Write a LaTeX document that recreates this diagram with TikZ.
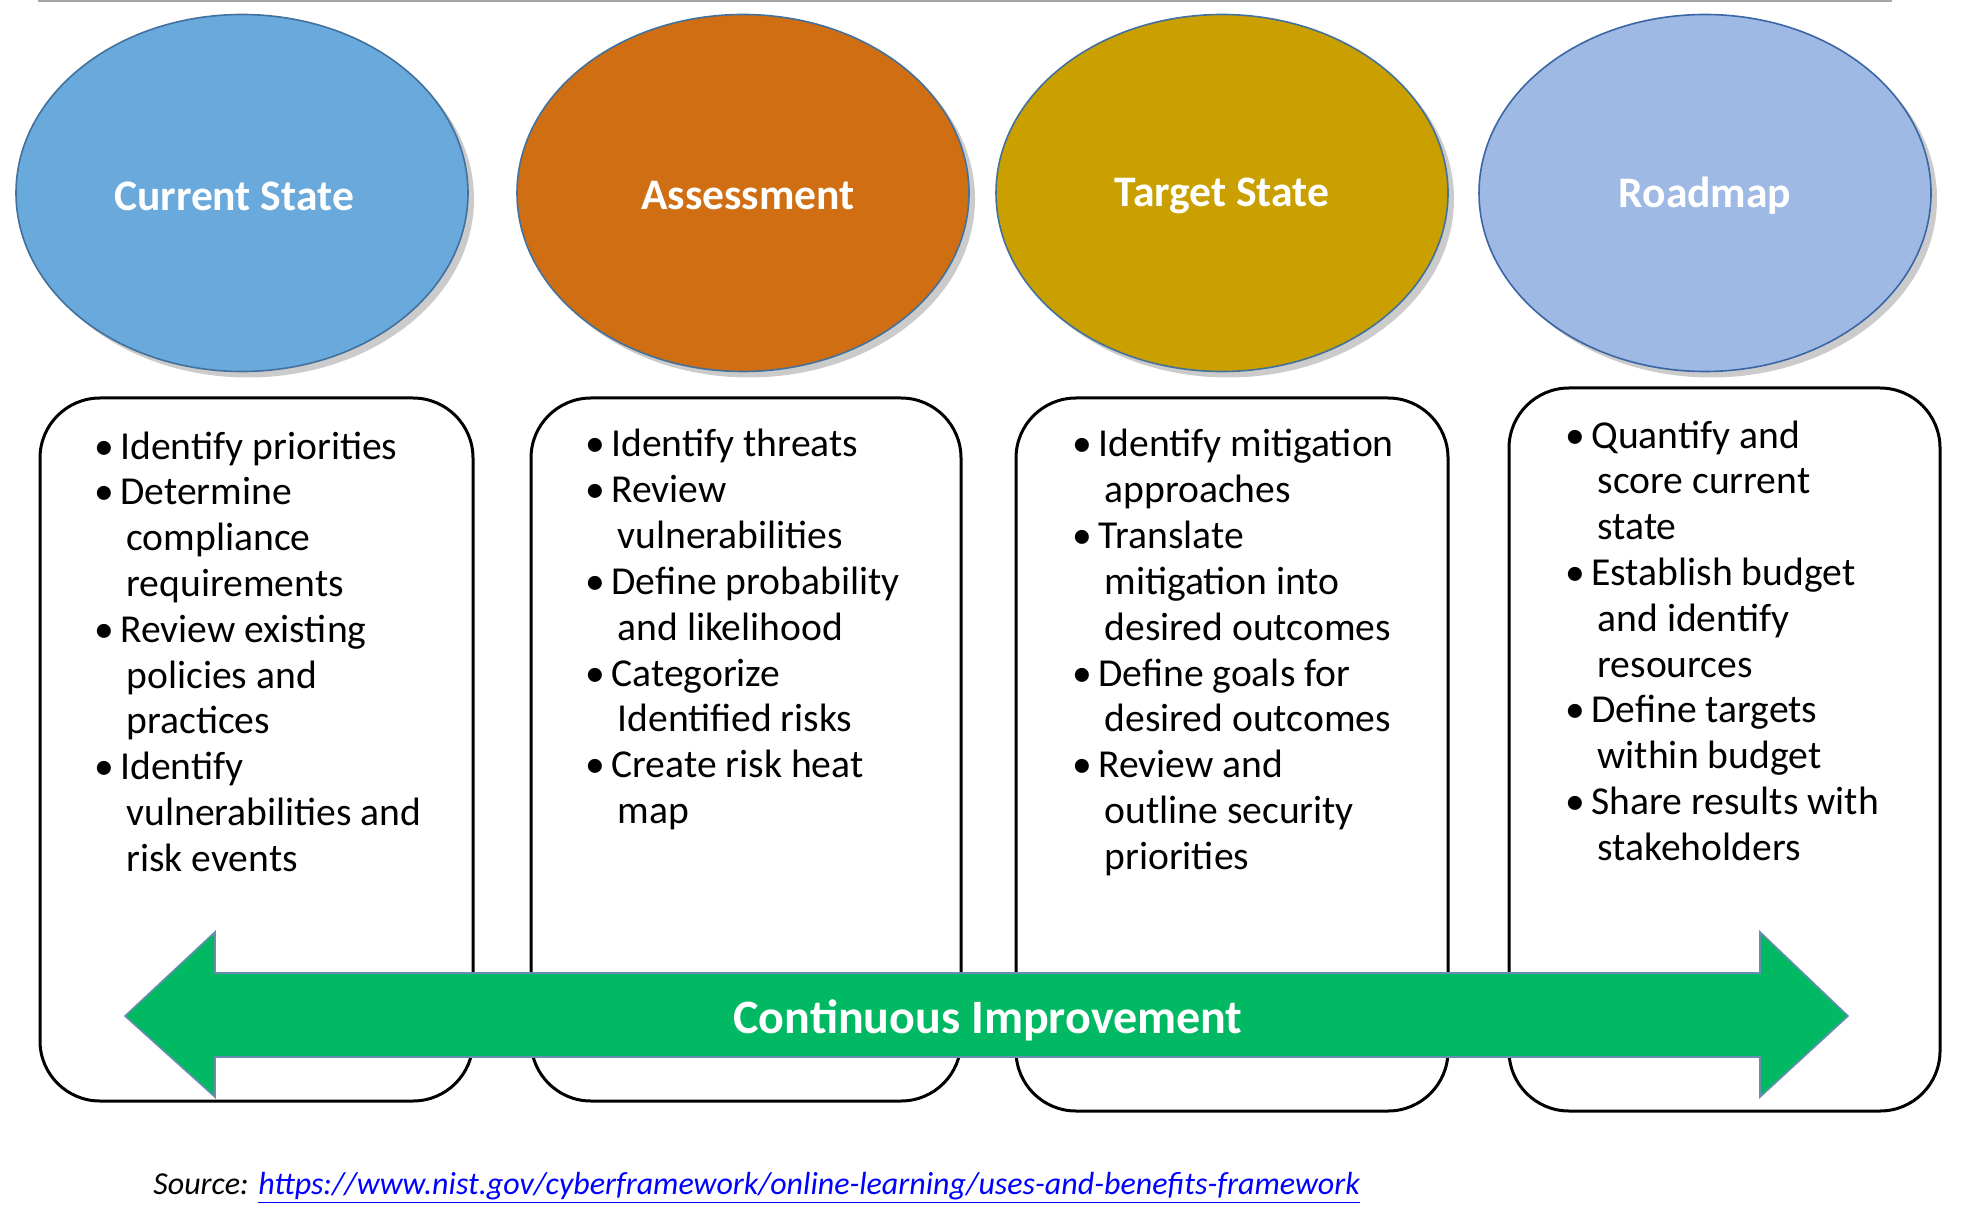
\documentclass[tikz,border=0pt]{standalone}
\usepackage{fontspec}
\setmainfont{Carlito}
\usetikzlibrary{shapes.geometric,shadows}

\definecolor{curblue}{HTML}{69A9DB}
\definecolor{assessorange}{HTML}{D06E14}
\definecolor{targetgold}{HTML}{C9A000}
\definecolor{roadblue}{HTML}{9EB9E3}
\definecolor{rimblue}{HTML}{41719C}
\definecolor{arrowgreen}{HTML}{00B962}
\definecolor{linkblue}{HTML}{0000FF}

\newcommand{\bul}{\textbullet}
\newcommand{\cont}{\hspace{3pt}}

\begin{document}
\begin{tikzpicture}[x=0.5pt, y=-0.5pt,
    phase/.style={ellipse, draw=rimblue, line width=0.8pt, inner sep=0pt,
      minimum width=226pt, minimum height=178.5pt},
    title/.style={text=white, font=\fontsize{21.8}{24}\selectfont\bfseries},
    box/.style={draw=black, line width=1.5pt, rounded corners=30pt, fill=white, inner sep=0pt},
    bullets/.style={anchor=base west, inner sep=0pt, font=\fontsize{19.8}{22.9}\selectfont}]
  \useasboundingbox (0,0) rectangle (1962,1224);
  \draw[gray!70, line width=1pt] (38,1) -- (1892,1);

  % boxes
  \node[box, minimum width=216.5pt, minimum height=351.5pt] (b1) at (256.5,749.5) {};
  \node[box, minimum width=215pt, minimum height=351.5pt] (b2) at (746,749.5) {};
  \node[box, minimum width=216pt, minimum height=356.5pt] (b3) at (1232,754.5) {};
  \node[box, minimum width=215.5pt, minimum height=361.5pt] (b4) at (1724.5,749.5) {};

  \node[bullets] (l1) at (94,459) {\begin{tabular}[t]{@{}l@{\hspace{3.2pt}}l@{}}
    \bul & Identify priorities\\
    \bul & Determine\\
         & \cont compliance\\
         & \cont requirements\\
    \bul & Review existing\\
         & \cont policies and\\
         & \cont practices\\
    \bul & Identify\\
         & \cont vulnerabilities and\\
         & \cont risk events
  \end{tabular}};
  \node[bullets] (l2) at (585,457) {\begin{tabular}[t]{@{}l@{\hspace{3.2pt}}l@{}}
    \bul & Identify threats\\
    \bul & Review\\
         & \cont vulnerabilities\\
    \bul & Define probability\\
         & \cont and likelihood\\
    \bul & Categorize\\
         & \cont Identified risks\\
    \bul & Create risk heat\\
         & \cont map
  \end{tabular}};
  \node[bullets] (l3) at (1072,457) {\begin{tabular}[t]{@{}l@{\hspace{3.2pt}}l@{}}
    \bul & Identify mitigation\\
         & \cont approaches\\
    \bul & Translate\\
         & \cont mitigation into\\
         & \cont desired outcomes\\
    \bul & Define goals for\\
         & \cont desired outcomes\\
    \bul & Review and\\
         & \cont outline security\\
         & \cont priorities
  \end{tabular}};
  \node[bullets] (l4) at (1565,448) {\begin{tabular}[t]{@{}l@{\hspace{3.2pt}}l@{}}
    \bul & Quantify and\\
         & \cont score current\\
         & \cont state\\
    \bul & Establish budget\\
         & \cont and identify\\
         & \cont resources\\
    \bul & Define targets\\
         & \cont within budget\\
    \bul & Share results with\\
         & \cont stakeholders
  \end{tabular}};

  % continuous improvement arrow
  \coordinate (tl) at (125,1016);
  \coordinate (tr) at (1848,1016);
  \filldraw[fill=arrowgreen, draw=rimblue!80, line width=0.8pt]
    (tl) -- (215,932) -- (215,973) -- (1760,973) -- (1760,932) -- (tr)
    -- (1760,1097) -- (1760,1057) -- (215,1057) -- (215,1097) -- cycle;
  \node[text=white, font=\fontsize{24}{26}\selectfont\bfseries] (ci) at (988,1020) {Continuous Improvement};

  % phases
  \node[phase, fill=curblue, drop shadow={shadow xshift=3pt, shadow yshift=-3pt, fill=black!45, opacity=0.45}] (cur) at (242,193) {};
  \node[phase, fill=assessorange, drop shadow={shadow xshift=3pt, shadow yshift=-3pt, fill=black!45, opacity=0.45}] (ass) at (743,193) {};
  \node[phase, fill=targetgold, drop shadow={shadow xshift=3pt, shadow yshift=-3pt, fill=black!45, opacity=0.45}] (tgt) at (1222,193) {};
  \node[phase, fill=roadblue, draw=rimblue!90!blue, drop shadow={shadow xshift=3pt, shadow yshift=-3pt, fill=black!45, opacity=0.45}] (road) at (1705,193) {};
  \node[title] (curt) at (234,196) {Current State};
  \node[title] (asst) at (748,196) {Assessment};
  \node[title] (tgtt) at (1222,196) {Target State};
  \node[title] (roadt) at (1705,196) {Roadmap};

  \node[anchor=base west, inner sep=0pt, font=\fontsize{16}{18}\selectfont\itshape] (src) at (153,1194)
    {Source: \textcolor{linkblue}{\underline{https://www.nist.gov/cyberframework/online-learning/uses-and-benefits-framework}}};
\end{tikzpicture}
\end{document}
